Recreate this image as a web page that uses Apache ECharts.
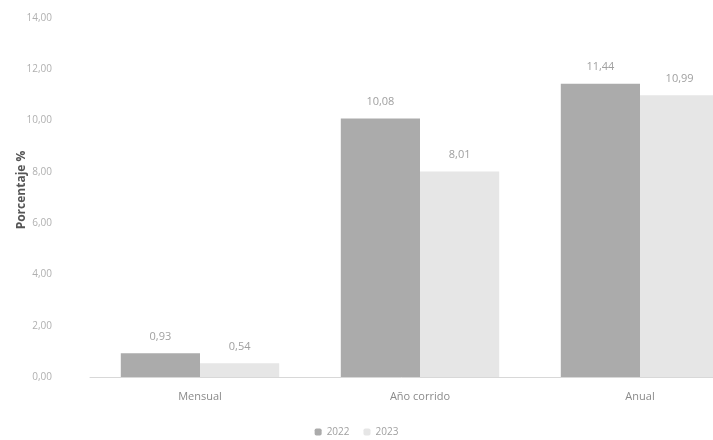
<!DOCTYPE html>
<html>
<head>
<meta charset="utf-8">
<script src="https://cdn.jsdelivr.net/npm/echarts@6/dist/echarts.min.js"></script>
<style>
   html, body { margin: 0; padding: 0; background: #fff; }
   #chart { width: 713px; height: 440px; }
</style>
</head>
<body>
<div id="chart"></div>
<script>
   // datos
   var categorias = ['Mensual', 'Año corrido', 'Anual'];
   var serie2022 = [0.93, 10.08, 11.44];
   var serie2023 = [0.54, 8.01, 10.99];
   var nombres = ['2022', '2023'];
   var tituloEje = 'Porcentaje %';

   function fmt(v){
      return v.toFixed(2).replace('.', ',');
   }

   var myChart = echarts.init(document.getElementById('chart'));
   var etiqueta = {
      show: true,
      position: 'top',
      distance: 11,
      color: '#a0a0a0',
      fontSize: 11,
      fontFamily: 'Open Sans',
      formatter: function(p){ return fmt(p.value); }
   };
   var option = {
      backgroundColor: '#fff',
      animation: false,
      // titulo del eje y (rotado)
      graphic: [{
         type: 'text',
         x: 22,
         y: 190,
         rotation: Math.PI / 2,
         style: {
            text: tituloEje,
            fill: '#555',
            font: 'bold 12px "Open Sans"',
            align: 'center',
            verticalAlign: 'middle'
         }
      }],
      legend: {
         data: nombres,
         bottom: -2,
         left: 'center',
         itemWidth: 7,
         itemHeight: 7,
         itemGap: 14,
         textStyle: {color: '#a0a0a0', fontSize: 10, fontFamily: 'Open Sans'}
      },
      grid: {
         left: 90,
         right: -37,
         top: 18,
         bottom: 63,
         containLabel: false,
         outerBoundsMode: 'none'
      },
      xAxis: {
         type: 'category',
         data: categorias,
         axisLine: {lineStyle: {color: '#d8d8d8'}},
         axisTick: {show: false},
         axisLabel: {color: '#8a8a8a', fontSize: 11, fontFamily: 'Open Sans', margin: 14}
      },
      yAxis: {
         type: 'value',
         min: 0,
         max: 14,
         interval: 2,
         axisLine: {show: false},
         axisTick: {show: false},
         splitLine: {show: false},
         axisLabel: {
            color: '#b0b0b0',
            fontSize: 10,
            fontFamily: 'Open Sans',
            margin: 38,
            formatter: function(v){ return fmt(v); }
         }
      },
      series: [
         {
            name: nombres[0],
            type: 'bar',
            data: serie2022,
            barGap: '0%',
            barCategoryGap: '28%',
            itemStyle: {color: '#ababab'},
            label: etiqueta
         },
         {
            name: nombres[1],
            type: 'bar',
            data: serie2023,
            itemStyle: {color: '#e6e6e6'},
            label: etiqueta
         }
      ]
   };
   myChart.setOption(option);
</script>
</body>
</html>
